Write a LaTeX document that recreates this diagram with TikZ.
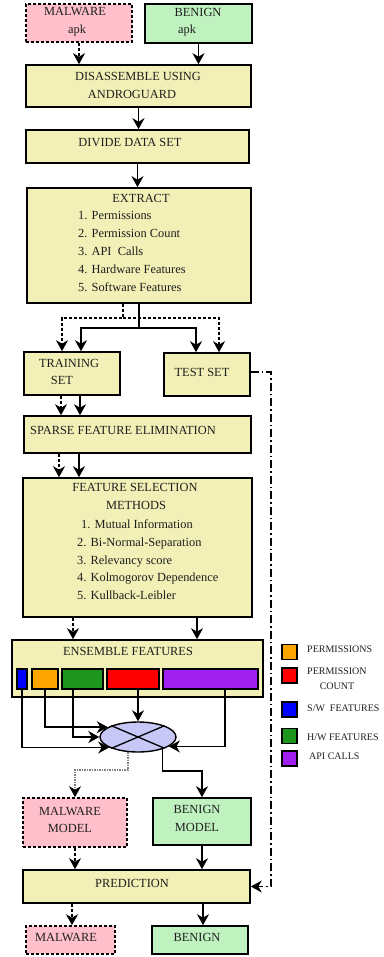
\documentclass[tikz,border=0pt]{standalone}
\usepackage{fontspec}
\setmainfont{Liberation Serif}
\usetikzlibrary{arrows.meta,shapes.geometric}

\definecolor{malpink}{RGB}{255,192,203}
\definecolor{bengreen}{RGB}{192,242,192}
\definecolor{stepyellow}{RGB}{242,240,182}
\definecolor{mixblue}{RGB}{200,200,248}
\definecolor{fOrange}{RGB}{255,165,0}
\definecolor{fRed}{RGB}{255,0,0}
\definecolor{fBlue}{RGB}{0,0,255}
\definecolor{fGreen}{RGB}{30,150,30}
\definecolor{fPurple}{RGB}{160,32,240}
\definecolor{inkgray}{RGB}{30,30,30}

\begin{document}
\begin{tikzpicture}[x=1pt,y=-1pt,
  box/.style={draw=black, line width=1.6pt, inner sep=0, rectangle},
  yelbox/.style={box, fill=stepyellow},
  malbox/.style={box, fill=malpink, dash pattern=on 3pt off 2pt},
  benbox/.style={box, fill=bengreen},
  txt/.style={inner sep=0, font=\fontsize{12.4}{14}\selectfont, text=inkgray, text height=8.2pt, text depth=0pt},
  itemtxt/.style={txt, anchor=west},
  legtxt/.style={inner sep=0, font=\fontsize{10}{12}\selectfont, text=inkgray, text height=6.6pt, text depth=0pt, anchor=west},
  bar/.style={draw=black, line width=1.3pt, inner sep=0, minimum height=20pt},
  legsq/.style={draw=black, line width=1.3pt, inner sep=0, minimum width=15pt, minimum height=15pt},
  tipshape/.style={-{Stealth[length=11pt,width=12pt,inset=3.5pt]}},
  arr/.style={line width=1.5pt, tipshape},
  darr/.style={arr, dash pattern=on 3pt off 2pt},
  ddarr/.style={line width=1.3pt, dash pattern=on 8pt off 3pt on 1.5pt off 3pt, tipshape},
  grayarr/.style={line width=1.4pt, draw=gray, dash pattern=on 1.5pt off 1pt, -{Stealth[length=11pt,width=12pt,inset=3.5pt,color=black]}},
]
\useasboundingbox (0,0) rectangle (383,957);

% ---------- inputs ----------
\node[malbox, minimum width=106pt, minimum height=38pt] (malapk) at (79,23) {};
\node[benbox, minimum width=107pt, minimum height=39pt] (benapk) at (198.5,23.5) {};
\node[txt] (malapkA) at (75,11) {MALWARE};
\node[txt] (malapkB) at (77,29) {apk};
\node[txt] (benapkA) at (198,12) {BENIGN};
\node[txt] (benapkB) at (187,29) {apk};

% ---------- processing steps ----------
\node[yelbox, minimum width=225pt, minimum height=42pt] (disasm) at (138.5,86) {};
\node[txt] (disasmA) at (138,76) {DISASSEMBLE USING};
\node[txt] (disasmB) at (132,94) {ANDROGUARD};

\node[yelbox, minimum width=223pt, minimum height=33pt] (divide) at (137.5,146.5) {};
\node[txt] (divideA) at (130,142) {DIVIDE DATA SET};

\node[yelbox, minimum width=224pt, minimum height=115pt] (extract) at (139,245.5) {};
\node[txt] (extractT) at (141,198) {EXTRACT};
\node[itemtxt] (ext1) at (78,215) {1. Permissions};
\node[itemtxt] (ext2) at (78,233) {2. Permission Count};
\node[itemtxt] (ext3) at (78,251) {3. API\ \ Calls};
\node[itemtxt] (ext4) at (78,269) {4. Hardware Features};
\node[itemtxt] (ext5) at (78,287) {5. Software Features};

\node[yelbox, minimum width=96pt, minimum height=43pt] (train) at (72,373.5) {};
\node[txt] (trainA) at (69,363) {TRAINING};
\node[txt] (trainB) at (62,380) {SET};
\node[yelbox, minimum width=86pt, minimum height=43pt] (test) at (207,374.5) {};
\node[txt] (testA) at (202,372) {TEST SET};

\node[yelbox, minimum width=227pt, minimum height=37pt] (sparse) at (137.5,434.5) {};
\node[txt] (sparseA) at (123,430) {SPARSE FEATURE ELIMINATION};

\node[yelbox, minimum width=229pt, minimum height=139pt] (fsel) at (137.5,547.5) {};
\node[txt] (fselA) at (135,487) {FEATURE SELECTION};
\node[txt] (fselB) at (136,505) {METHODS};
\node[itemtxt] (fs1) at (81,524) {1. Mutual Information};
\node[itemtxt] (fs2) at (77,542) {2. Bi-Normal-Separation};
\node[itemtxt] (fs3) at (77,560) {3. Relevancy score};
\node[itemtxt] (fs4) at (77,577) {4. Kolmogorov Dependence};
\node[itemtxt] (fs5) at (77,595) {5. Kullback-Leibler};

\node[yelbox, minimum width=251pt, minimum height=57pt] (ensemble) at (137.5,668.5) {};
\node[txt] (ensembleA) at (128,651) {ENSEMBLE FEATURES};
\node[bar, fill=fBlue, minimum width=10pt] (swbar) at (22,679) {};
\node[bar, fill=fOrange, minimum width=26pt] (permbar) at (45,679) {};
\node[bar, fill=fGreen, minimum width=41pt] (hwbar) at (82.5,679) {};
\node[bar, fill=fRed, minimum width=52pt] (cntbar) at (133,679) {};
\node[bar, fill=fPurple, minimum width=95pt] (apibar) at (210.5,679) {};

% combiner
\node[ellipse, draw=black, line width=1.4pt, fill=mixblue, minimum width=76pt, minimum height=30pt, inner sep=0] (mix) at (138,737) {};
\draw[line width=1.3pt] (mix.157) -- (mix.337);
\draw[line width=1.3pt] (mix.203) -- (mix.23);

% ---------- models and outcome ----------
\node[malbox, minimum width=104pt, minimum height=49pt] (malmodel) at (75,822.5) {};
\node[txt] (malmodelA) at (70,811) {MALWARE};
\node[txt] (malmodelB) at (70,828) {MODEL};
\node[benbox, minimum width=98pt, minimum height=47pt] (benmodel) at (202,821.5) {};
\node[txt] (benmodelA) at (197,809) {BENIGN};
\node[txt] (benmodelB) at (197,827) {MODEL};

\node[yelbox, minimum width=227pt, minimum height=33pt] (predict) at (136.5,886.5) {};
\node[txt] (predictA) at (132,883) {PREDICTION};

\node[malbox, minimum width=89pt, minimum height=28pt] (malout) at (70.5,940) {};
\node[txt] (maloutA) at (66,937) {MALWARE};
\node[benbox, minimum width=96pt, minimum height=28pt] (benout) at (200,940) {};
\node[txt] (benoutA) at (197,937) {BENIGN};

% ---------- legend ----------
\node[legsq, fill=fOrange] (legperm) at (289.5,652) {};
\node[legsq, fill=fRed] (legcnt) at (289.5,675.5) {};
\node[legsq, fill=fBlue] (legsw) at (289.5,709.5) {};
\node[legsq, fill=fGreen] (leghw) at (289.5,736) {};
\node[legsq, fill=fPurple] (legapi) at (289.5,758.5) {};
\node[legtxt] (legpermT) at (307,649) {PERMISSIONS};
\node[legtxt] (legcntT) at (307,671) {PERMISSION};
\node[legtxt, anchor=center] (legcntT2) at (337,686) {COUNT};
\node[legtxt] (legswT) at (307,708) {S/W\ \ FEATURES};
\node[legtxt] (leghwT) at (307,737) {H/W FEATURES};
\node[legtxt] (legapiT) at (309,756) {API CALLS};

% ---------- connectors ----------
\draw[darr] (malapk.south) -- (malapk.south |- disasm.north);
\draw[arr] (benapk.south) -- (benapk.south |- disasm.north);
\draw[arr] (disasm.south) -- (disasm.south |- divide.north);
\draw[arr] (divide.south) -- (divide.south |- extract.north);

\coordinate (solidrow) at (139,328);
\coordinate (dashrow) at (123,318);
\draw[arr] (extract.south) -- (solidrow) -| ([xshift=9pt]train.north);
\draw[arr] (solidrow) -| ([xshift=-11pt]test.north);
\draw[darr] ([xshift=-16pt]extract.south) -- (dashrow) -| ([xshift=-10pt]train.north);
\draw[darr] (dashrow) -| ([xshift=12pt]test.north);

\draw[darr] ([xshift=-11pt]train.south) -- ([xshift=-11pt]train.south |- sparse.north);
\draw[arr] ([xshift=8pt]train.south) -- ([xshift=8pt]train.south |- sparse.north);
\draw[darr] ([xshift=-78.5pt]sparse.south) -- ([xshift=-78.5pt]sparse.south |- fsel.north);
\draw[arr] ([xshift=-58.5pt]sparse.south) -- ([xshift=-58.5pt]sparse.south |- fsel.north);
\draw[darr] ([xshift=-64.5pt]fsel.south) -- ([xshift=-64.5pt]fsel.south |- ensemble.north);
\draw[arr] ([xshift=59.5pt]fsel.south) -- ([xshift=59.5pt]fsel.south |- ensemble.north);

\draw[arr] (swbar.south) |- (mix.200);
\draw[arr] (permbar.south) |- (mix.162);
\draw[arr] ([xshift=-9.5pt]hwbar.south) |- (mix.west);
\draw[arr] (cntbar.south -| mix.north) -- (mix.north);
\draw[arr] ([xshift=14.5pt]apibar.south) |- (mix.343);

\coordinate (grayrow) at (75,770);
\coordinate (benrow) at (202,771);
\draw[grayarr] (mix.237) |- (grayrow) -- (malmodel.north);
\draw[arr] (mix.334) |- (benrow) -- (benmodel.north);

\draw[darr] (malmodel.south) -- (malmodel.south |- predict.north);
\draw[arr] (benmodel.south) -- (benmodel.south |- predict.north);
\draw[darr] ([xshift=1.5pt]malout.north |- predict.south) -- ([xshift=1.5pt]malout.north);
\draw[arr] ([xshift=3pt]benout.north |- predict.south) -- ([xshift=3pt]benout.north);

\coordinate (rail) at (271,600);
\draw[ddarr] ([yshift=2.5pt]test.east) -| (rail) |- (predict.east);
\end{tikzpicture}
\end{document}
